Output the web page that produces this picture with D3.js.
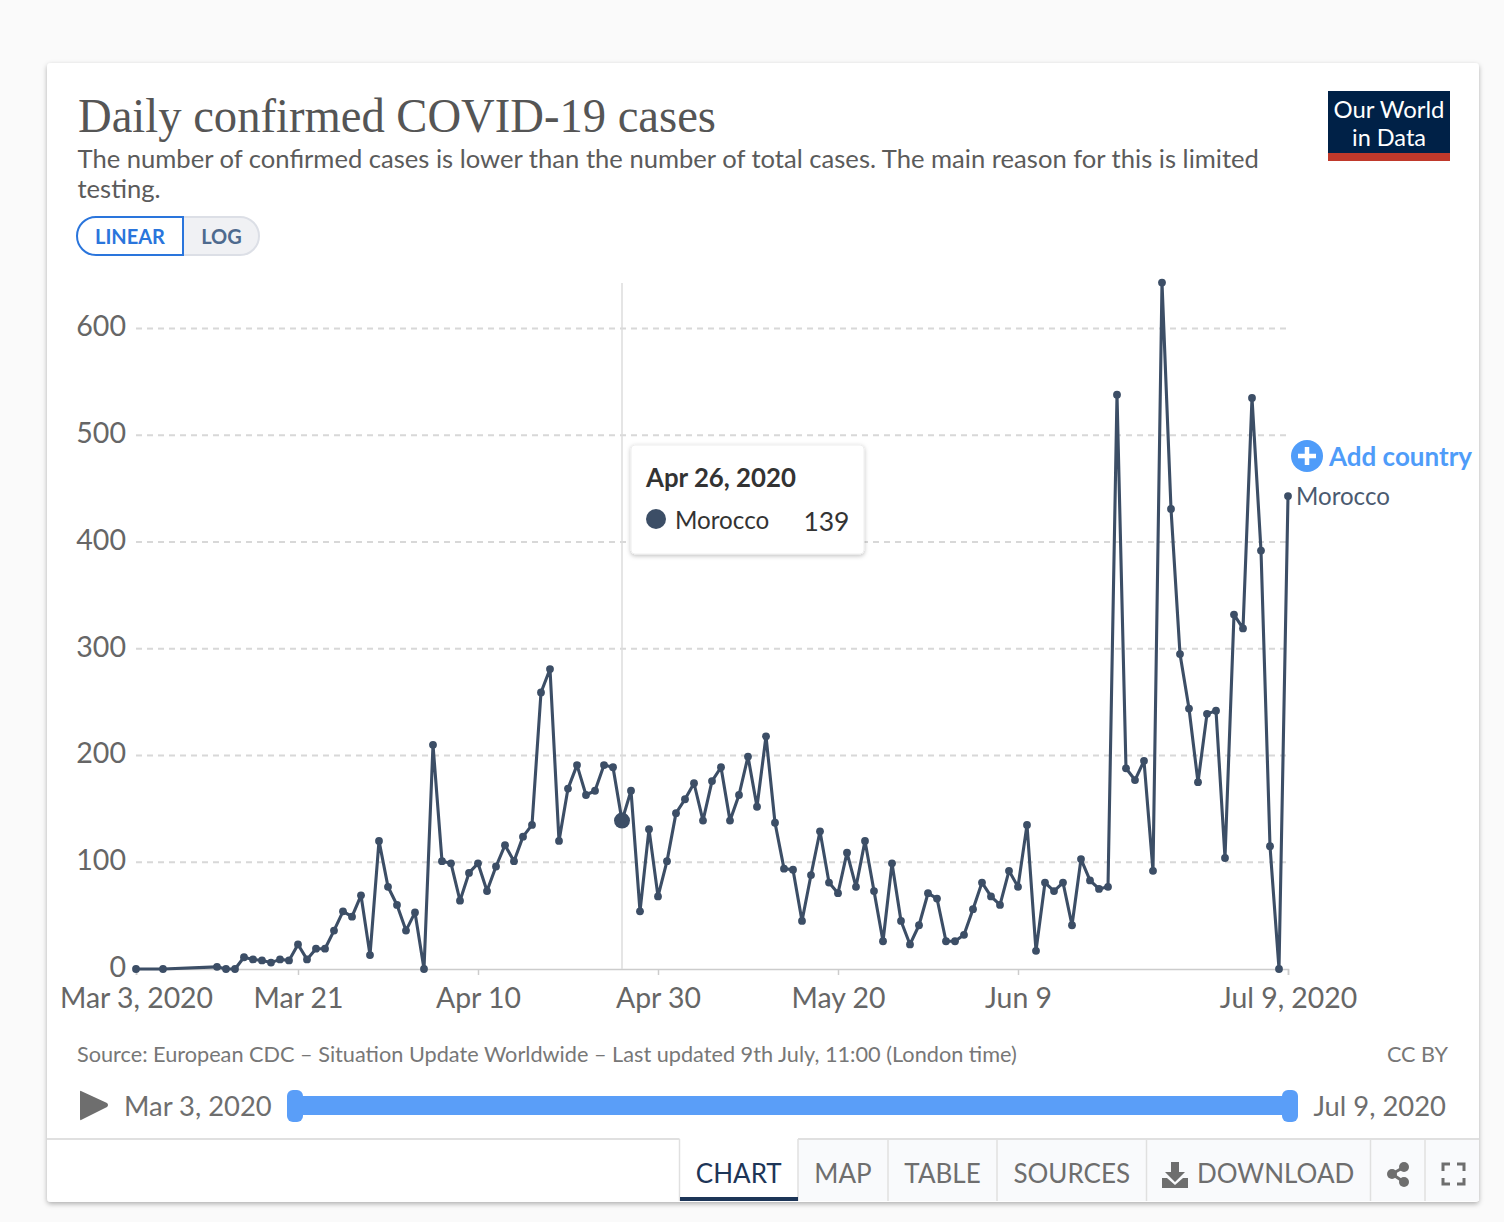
<!DOCTYPE html>
<html>
<head>
<meta charset="utf-8">
<title>Daily confirmed COVID-19 cases</title>
<script src="https://cdn.jsdelivr.net/npm/d3@7"></script>
<style>
    html, body { margin: 0; padding: 0; background: #fafafa; }
    svg { display: block; }
    text { font-family: Lato, "Noto Sans", sans-serif; }
</style>
</head>
<body>
<div id="svgElement"></div>
<script>
// days since Mar 3, 2020 (a few early days have no report)
var caseDays = [0, 3, 9, 10, 11, 12, 13, 14, 15, 16, 17, 18, 19, 20, 21, 22, 23, 24, 25, 26, 27, 28, 29, 30, 31,
    32, 33, 34, 35, 36, 37, 38, 39, 40, 41, 42, 43, 44, 45, 46, 47, 48, 49, 50, 51, 52, 53, 54, 55, 56, 57, 58, 59,
    60, 61, 62, 63, 64, 65, 66, 67, 68, 69, 70, 71, 72, 73, 74, 75, 76, 77, 78, 79, 80, 81, 82, 83, 84, 85, 86, 87,
    88, 89, 90, 91, 92, 93, 94, 95, 96, 97, 98, 99, 100, 101, 102, 103, 104, 105, 106, 107, 108, 109, 110, 111, 112,
    113, 114, 115, 116, 117, 118, 119, 120, 121, 122, 123, 124, 125, 126, 127, 128];
var caseValues = [0, 0, 2, 0, 0, 11, 9, 8, 6, 9, 8, 23, 9, 19, 19, 36, 54, 49, 69, 13, 120, 77, 60, 36, 53,
    0, 210, 101, 99, 64, 90, 99, 73, 96, 116, 101, 124, 135, 259, 281, 120, 169, 191, 163, 167, 191, 189, 139, 167, 54, 131, 68, 101,
    146, 159, 174, 139, 176, 189, 139, 163, 199, 152, 218, 137, 94, 93, 45, 88, 129, 81, 71, 109, 77, 120, 73, 26, 99, 45, 23, 41,
    71, 66, 26, 26, 32, 56, 81, 68, 60, 92, 77, 135, 17, 81, 73, 81, 41, 103, 83, 75, 77, 538, 188, 177, 195,
    92, 643, 431, 295, 244, 175, 239, 242, 104, 332, 319, 535, 392, 115, 0, 443];
var yTicks = [0, 100, 200, 300, 400, 500, 600];
var xTickDays = [0, 18, 38, 58, 78, 98, 128];
var xTickLabels = ["Mar 3, 2020", "Mar 21", "Apr 10", "Apr 30", "May 20", "Jun 9", "Jul 9, 2020"];
var hoverDay = 54;
var hoverValue = 139;
var tabNames = ["CHART", "MAP", "TABLE", "SOURCES", "DOWNLOAD"];

var startDate = new Date(Date.UTC(2020, 2, 3));
function dayToDate(d) { return d3.utcDay.offset(startDate, d); }

var data = caseDays.map(function(d, i) { return { date: dayToDate(d), value: caseValues[i] }; });

var svg = d3.select("#svgElement").append("svg")
    .attr("width", 1504)
    .attr("height", 1222);

var defs = svg.append("defs");
var shadow = defs.append("filter").attr("id", "cardShadow")
    .attr("x", "-5%").attr("y", "-5%").attr("width", "110%").attr("height", "110%");
shadow.append("feDropShadow").attr("dx", 0).attr("dy", 2).attr("stdDeviation", 2.5)
    .attr("flood-color", "#000").attr("flood-opacity", 0.3);
var tipShadow = defs.append("filter").attr("id", "tipShadow")
    .attr("x", "-10%").attr("y", "-10%").attr("width", "120%").attr("height", "130%");
tipShadow.append("feDropShadow").attr("dx", 0).attr("dy", 1.5).attr("stdDeviation", 2)
    .attr("flood-color", "#000").attr("flood-opacity", 0.25);

// card
svg.append("rect").attr("width", 1504).attr("height", 1222).attr("fill", "#fafafa");
svg.append("rect")
    .attr("x", 47).attr("y", 63).attr("width", 1432).attr("height", 1139).attr("rx", 4)
    .attr("fill", "#fff").attr("filter", "url(#cardShadow)");

// header
svg.append("text").attr("x", 78).attr("y", 132)
    .attr("textLength", 638).attr("lengthAdjust", "spacingAndGlyphs")
    .style("font-family", "'Liberation Serif', serif").style("font-size", "48px").attr("fill", "#555")
    .text("Daily confirmed COVID-19 cases");
svg.selectAll(".subtitle")
    .data(["The number of confirmed cases is lower than the number of total cases. The main reason for this is limited", "testing."])
    .enter().append("text").attr("class", "subtitle")
    .attr("x", 77.5).attr("y", function(d, i) { return 168 + i * 30; })
    .style("font-size", "25.6px").attr("fill", "#5b5b5b")
    .text(function(d) { return d; });

// logo
svg.append("rect").attr("x", 1328).attr("y", 91).attr("width", 122).attr("height", 63).attr("fill", "#002147");
svg.append("rect").attr("x", 1328).attr("y", 153).attr("width", 122).attr("height", 8).attr("fill", "#c0392b");
svg.selectAll(".logo")
    .data(["Our World", "in Data"])
    .enter().append("text").attr("class", "logo")
    .attr("x", 1389).attr("y", function(d, i) { return 118 + i * 28; })
    .attr("text-anchor", "middle").style("font-size", "23.5px").attr("fill", "#fff")
    .attr("textLength", function(d, i) { return i == 0 ? 111 : 74; })
    .attr("lengthAdjust", "spacingAndGlyphs")
    .text(function(d) { return d; });

// linear / log switch
svg.append("path").attr("d", "M183,217 H240 A19,19 0 0 1 240,255 H183 Z")
    .attr("fill", "#f0f1f4").attr("stroke", "#dcdfe6").attr("stroke-width", 2);
svg.append("path").attr("d", "M183,217 H96 A19,19 0 0 0 96,255 H183 Z")
    .attr("fill", "#fff").attr("stroke", "#2a75dc").attr("stroke-width", 2);
svg.append("text").attr("x", 130).attr("y", 244).attr("text-anchor", "middle")
    .style("font-size", "20px").style("font-weight", 700).attr("fill", "#2a75dc").text("LINEAR");
svg.append("text").attr("x", 221.5).attr("y", 244).attr("text-anchor", "middle")
    .style("font-size", "20px").style("font-weight", 700).attr("fill", "#4e6a8e").text("LOG");

// scales
var xScale = d3.scaleUtc()
    .domain([dayToDate(0), dayToDate(128)])
    .range([136, 1288]);
var yScale = d3.scaleLinear()
    .domain([0, 600])
    .range([969, 328.5]);

// grid lines
svg.append("g").selectAll("line")
    .data(yTicks.filter(function(d) { return d > 0; }))
    .enter().append("line")
    .attr("x1", 136).attr("x2", 1288)
    .attr("y1", function(d) { return yScale(d); })
    .attr("y2", function(d) { return yScale(d); })
    .attr("stroke", "#d8d8d8").attr("stroke-width", 1.8).attr("stroke-dasharray", "6,5");

// y axis labels
var yAxis = svg.append("g")
    .attr("transform", "translate(126,0)")
    .call(d3.axisLeft(yScale).tickValues(yTicks).tickSize(0).tickPadding(0).tickFormat(d3.format("d")));
yAxis.select(".domain").remove();
yAxis.selectAll("text").style("font-family", "Lato, sans-serif").style("font-size", "28.6px").attr("fill", "#666")
    .attr("dy", "0.33em").attr("y", -2);

// x axis
var xAxis = svg.append("g")
    .attr("transform", "translate(0,969)")
    .call(d3.axisBottom(xScale)
        .tickValues(xTickDays.map(dayToDate))
        .tickSize(6)
        .tickPadding(13)
        .tickFormat(function(d, i) { return xTickLabels[i]; }));
xAxis.select(".domain").attr("stroke", "#ccc").attr("stroke-width", 1.5);
xAxis.selectAll("line").attr("stroke", "#ccc").attr("stroke-width", 1.5);
xAxis.selectAll("text").style("font-family", "Lato, sans-serif").style("font-size", "28.4px").attr("fill", "#666");

// hover line
svg.append("line")
    .attr("x1", xScale(dayToDate(hoverDay))).attr("x2", xScale(dayToDate(hoverDay)))
    .attr("y1", 283).attr("y2", 969)
    .attr("stroke", "#ddd").attr("stroke-width", 1.5);

// series
var line = d3.line()
    .x(function(d) { return xScale(d.date); })
    .y(function(d) { return yScale(d.value); });
svg.append("path").datum(data)
    .attr("d", line)
    .attr("fill", "none").attr("stroke", "#3c4e66").attr("stroke-width", 3.1).attr("stroke-linejoin", "round");
svg.selectAll(".dot")
    .data(data)
    .enter().append("circle").attr("class", "dot")
    .attr("cx", function(d) { return xScale(d.date); })
    .attr("cy", function(d) { return yScale(d.value); })
    .attr("r", 3.9)
    .attr("fill", "#3c4e66");
svg.append("circle")
    .attr("cx", xScale(dayToDate(hoverDay))).attr("cy", yScale(hoverValue)).attr("r", 8)
    .attr("fill", "#3c4e66");

// series label and add button
svg.append("text").attr("x", 1296).attr("y", 505)
    .style("font-size", "24.1px").attr("fill", "#4a5a70").text("Morocco");
svg.append("circle").attr("cx", 1307).attr("cy", 456).attr("r", 16).attr("fill", "#4f9cf9");
svg.append("path").attr("d", "M1307,447 V465 M1298,456 H1316")
    .attr("stroke", "#fff").attr("stroke-width", 4.5);
svg.append("text").attr("x", 1329).attr("y", 466)
    .style("font-size", "26px").style("font-weight", 700).attr("fill", "#4f9cf9").text("Add country");

// tooltip
svg.append("rect").attr("x", 631).attr("y", 445).attr("width", 233).attr("height", 109).attr("rx", 4)
    .attr("fill", "#fff").attr("stroke", "#eee").attr("filter", "url(#tipShadow)");
svg.append("text").attr("x", 646).attr("y", 487)
    .style("font-size", "25.8px").style("font-weight", 700).attr("fill", "#333")
    .text(d3.utcFormat("%b %-d, %Y")(dayToDate(hoverDay)));
svg.append("circle").attr("cx", 656).attr("cy", 519).attr("r", 10).attr("fill", "#3c4e66");
svg.append("text").attr("x", 675).attr("y", 529)
    .style("font-size", "24.2px").attr("fill", "#333").text("Morocco");
svg.append("text").attr("x", 849.5).attr("y", 531).attr("text-anchor", "end")
    .style("font-size", "26.5px").attr("fill", "#333").text(hoverValue);

// footer
svg.append("text").attr("x", 77).attr("y", 1062)
    .style("font-size", "21.7px").attr("fill", "#777")
    .text("Source: European CDC \u2013 Situation Update Worldwide \u2013 Last updated 9th July, 11:00 (London time)");
svg.append("text").attr("x", 1448).attr("y", 1062).attr("text-anchor", "end")
    .style("font-size", "21.6px").attr("fill", "#777").text("CC BY");

// time slider
svg.append("path").attr("d", "M81,1091 L107,1103 Q109,1105 107,1107 L81,1120 Q80,1121 80,1118 V1092 Q80,1090 81,1091 Z")
    .attr("fill", "#6e6e6e");
svg.append("text").attr("x", 124).attr("y", 1116)
    .style("font-size", "27.4px").attr("fill", "#6e6e6e").text(xTickLabels[0]);
svg.append("text").attr("x", 1446).attr("y", 1116).attr("text-anchor", "end")
    .style("font-size", "27.4px").attr("fill", "#6e6e6e").text(xTickLabels[6]);
svg.append("rect").attr("x", 295).attr("y", 1096).attr("width", 995).attr("height", 19).attr("fill", "#5a9ef8");
svg.selectAll(".handle")
    .data([287, 1282])
    .enter().append("rect").attr("class", "handle")
    .attr("x", function(d) { return d; }).attr("y", 1090).attr("width", 16).attr("height", 32).attr("rx", 6)
    .attr("fill", "#5a9ef8");

// tab bar
var tabEdges = [679.5, 798, 888, 997, 1146.5, 1370.5, 1425, 1479];
svg.append("path").attr("d", "M47,1139 H679.5").attr("stroke", "#e0e0e0").attr("stroke-width", 2);
svg.append("g").selectAll("rect")
    .data(d3.range(1, 7))
    .enter().append("rect")
    .attr("x", function(i) { return tabEdges[i]; })
    .attr("y", 1139)
    .attr("width", function(i) { return tabEdges[i + 1] - tabEdges[i]; })
    .attr("height", 62)
    .attr("fill", "#f9fafc");
svg.append("path").attr("d", "M798,1139 H1479").attr("stroke", "#e0e0e0").attr("stroke-width", 2);
svg.append("g").selectAll("line")
    .data(tabEdges.slice(0, 7))
    .enter().append("line")
    .attr("x1", function(d) { return d; }).attr("x2", function(d) { return d; })
    .attr("y1", 1139).attr("y2", 1201)
    .attr("stroke", "#e0e0e0").attr("stroke-width", 1.5);
svg.append("rect").attr("x", 680).attr("y", 1197).attr("width", 118).attr("height", 4).attr("fill", "#1d3557");
svg.selectAll(".tab")
    .data(tabNames)
    .enter().append("text").attr("class", "tab")
    .attr("x", function(d) { return d == "DOWNLOAD" ? 1197 : (tabEdges[tabNames.indexOf(d)] + tabEdges[tabNames.indexOf(d) + 1]) / 2; })
    .attr("y", 1182.5)
    .attr("text-anchor", function(d) { return d == "DOWNLOAD" ? "start" : "middle"; })
    .style("font-size", "26px")
    .attr("fill", function(d, i) { return i == 0 ? "#1d3557" : "#6e6e6e"; })
    .text(function(d) { return d; });

// download icon
svg.append("path")
    .attr("d", "M1171,1162 H1179 V1172 H1185 L1175,1182 L1165,1172 H1171 Z M1162,1178 H1167 L1175,1185 L1183,1178 H1188 V1188 H1162 Z")
    .attr("fill", "#6e6e6e");
// share icon
svg.append("path").attr("d", "M1404,1167 L1392,1174 L1404,1182")
    .attr("fill", "none").attr("stroke", "#6e6e6e").attr("stroke-width", 3);
svg.selectAll(".share")
    .data([[1404, 1167], [1392, 1174], [1404, 1182]])
    .enter().append("circle").attr("class", "share")
    .attr("cx", function(d) { return d[0]; }).attr("cy", function(d) { return d[1]; }).attr("r", 5)
    .attr("fill", "#6e6e6e");
// fullscreen icon
svg.append("path")
    .attr("d", "M1443,1171 V1164 H1450 M1457,1164 H1464 V1171 M1464,1178 V1184 H1457 M1450,1184 H1443 V1178")
    .attr("fill", "none").attr("stroke", "#6e6e6e").attr("stroke-width", 3);
</script>
</body>
</html>
